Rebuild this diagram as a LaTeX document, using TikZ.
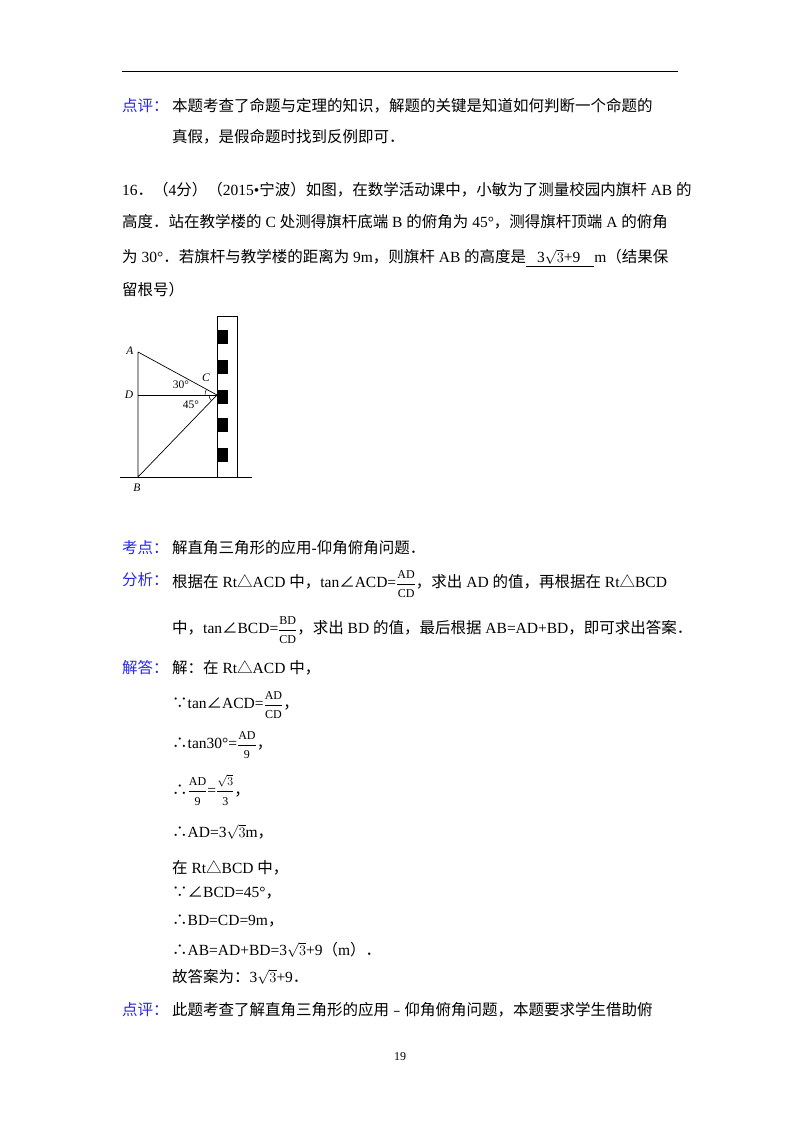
\documentclass[tikz,border=0pt]{standalone}
\usepackage{amsmath}
\usepackage{fontspec}
\setmainfont{Liberation Serif}
\newfontfamily\cjk{Noto Sans CJK SC}
\newcommand{\zh}[1]{{\cjk #1}}
\definecolor{lblue}{RGB}{40,40,230}
\newcommand{\fr}[2]{$\dfrac{\hbox{\fontsize{12}{12}\selectfont #1}}{\hbox{\fontsize{12}{12}\selectfont #2}}$}
\begin{document}
\begin{tikzpicture}[x=1pt,y=-1pt,
  tl/.style={anchor=west,inner sep=0pt,font=\fontsize{15.5}{18}\selectfont},
  lb/.style={tl,text=lblue},
  fl/.style={inner sep=0pt,font=\fontsize{11.5}{12}\selectfont\itshape}]
\useasboundingbox (0,0) rectangle (800,1132);
\draw[line width=1pt] (122,72) -- (678,72);
\node[lb] (l1a) at (122,106) {\zh{点评：}};
\node[tl] (l1) at (172,106) {\zh{本题考查了命题与定理的知识，解题的关键是知道如何判断一个命题的}};
\node[tl] (l2) at (172,137) {\zh{真假，是假命题时找到反例即可．}};
\node[tl] (l3) at (122,190) {16\zh{．（}4\zh{分）（}2015•\zh{宁波）如图，在数学活动课中，小敏为了测量校园内旗杆} AB \zh{的}};
\node[tl] (l4) at (122,222) {\zh{高度．站在教学楼的} C \zh{处测得旗杆底端} B \zh{的俯角为} 45°\zh{，测得旗杆顶端} A \zh{的俯角}};
\node[tl] (l5) at (122,258) {\zh{为} 30°\zh{．若旗杆与教学楼的距离为} 9m\zh{，则旗杆} AB \zh{的高度是}\underline{\hspace{0.7em}3$\sqrt{3}$+9\hspace{0.9em}}m\zh{（结果保}};
\node[tl] (l6) at (122,290) {\zh{留根号）}};
% figure
\draw[line width=0.8pt] (120,477) -- (252,477);
\draw[line width=0.8pt] (217,316) rectangle (237,477);
\foreach \y in {330,360,390,418,448} \fill (218,\y) rectangle (228,\y+14);
\coordinate (A) at (138,352);
\coordinate (D) at (138,395);
\coordinate (B) at (138,477);
\coordinate (C) at (217,395);
\draw[line width=0.7pt] (A) -- (C) -- (B) -- (A);
\draw[line width=0.7pt] (D) -- (C);
\draw[line width=0.5pt] ([xshift=-12pt]C) arc[start angle=180,end angle=151,radius=12pt];
\draw[line width=0.5pt] ([xshift=-8pt]C) arc[start angle=180,end angle=225,radius=8pt];
\node[fl] (lA) at (130,351) {A};
\node[fl] (lD) at (129,395) {D};
\node[fl] (lB) at (137,488) {B};
\node[fl] (lC) at (206,378) {C};
\node[inner sep=0pt,font=\fontsize{11.5}{12}\selectfont] (a30) at (181,385) {30°};
\node[inner sep=0pt,font=\fontsize{11.5}{12}\selectfont] (a45) at (191,405) {45°};
% solution
\node[lb] (k0) at (122,548) {\zh{考点：}};
\node[tl] (k1) at (172,548) {\zh{解直角三角形的应用}-\zh{仰角俯角问题．}};
\node[lb] (f0) at (122,580) {\zh{分析：}};
\node[tl] (f1) at (172,584) {\zh{根据在} Rt\zh{△}ACD \zh{中，}tan\zh{∠}ACD=\fr{AD}{CD}\zh{，求出} AD \zh{的值，再根据在} Rt\zh{△}BCD};
\node[tl] (f2) at (172,630) {\zh{中，}tan\zh{∠}BCD=\fr{BD}{CD}\zh{，求出} BD \zh{的值，最后根据} AB=AD+BD\zh{，即可求出答案．}};
\node[lb] (j0) at (122,668) {\zh{解答：}};
\node[tl] (j1) at (172,668) {\zh{解：在} Rt\zh{△}ACD \zh{中，}};
\node[tl] (j2) at (172,705) {\zh{∵}tan\zh{∠}ACD=\fr{AD}{CD}\zh{，}};
\node[tl] (j3) at (172,745) {\zh{∴}tan30°=\fr{AD}{9}\zh{，}};
\node[tl] (j4) at (172,790) {\zh{∴}\fr{AD}{9}=\fr{$\sqrt{3}$}{3}\zh{，}};
\node[tl] (j5) at (172,832) {\zh{∴}AD=3$\sqrt{3}$m\zh{，}};
\node[tl] (j6) at (172,868) {\zh{在} Rt\zh{△}BCD \zh{中，}};
\node[tl] (j7) at (172,893) {\zh{∵∠}BCD=45°\zh{，}};
\node[tl] (j8) at (172,921) {\zh{∴}BD=CD=9m\zh{，}};
\node[tl] (j9) at (172,950) {\zh{∴}AB=AD+BD=3$\sqrt{3}$+9\zh{（}m\zh{）．}};
\node[tl] (j10) at (172,977) {\zh{故答案为：}3$\sqrt{3}$+9\zh{．}};
\node[lb] (p0) at (122,1010) {\zh{点评：}};
\node[tl] (p1) at (172,1010) {\zh{此题考查了解直角三角形的应用﹣仰角俯角问题，本题要求学生借助俯}};
\node[inner sep=0pt,font=\fontsize{12}{14}\selectfont] (pg) at (400,1057) {19};
\end{tikzpicture}
\end{document}
